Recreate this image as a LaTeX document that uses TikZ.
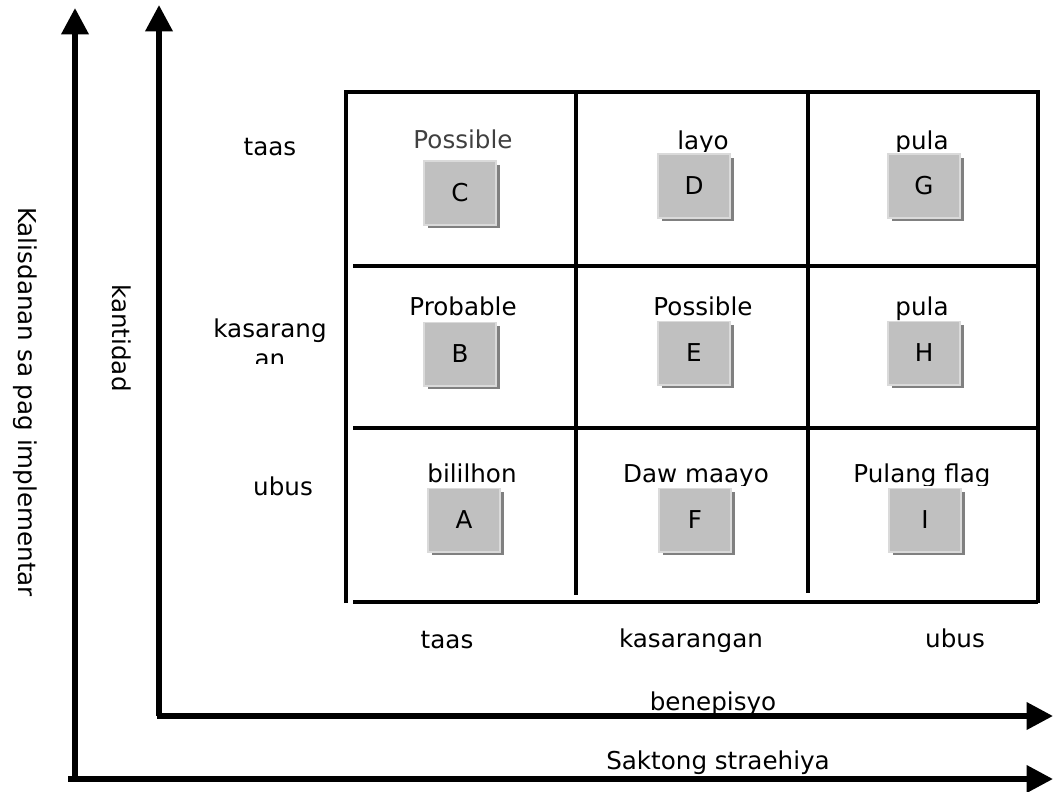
\documentclass[tikz,border=0pt]{standalone}
\usepackage{fontspec}
\setmainfont{DejaVu Sans}
\usetikzlibrary{arrows.meta,shadows}
\definecolor{BoxGray}{HTML}{C0C0C0}
\definecolor{BoxShade}{HTML}{808080}
\definecolor{BoxLight}{HTML}{DADADA}
\definecolor{SoftText}{HTML}{404040}

\begin{document}
\begin{tikzpicture}[
  x=0.02cm,y=-0.02cm,
  >={Triangle[length=15pt,width=15pt]},
  axis/.style={->,line width=3.2pt,draw=black},
  gridline/.style={line width=2.6pt,draw=black},
  cellbox/.style={draw=BoxLight,line width=1pt,fill=BoxGray,minimum width=41pt,minimum height=36pt,inner sep=0pt,font=\fontsize{14}{17}\selectfont,drop shadow={shadow xshift=2pt,shadow yshift=-2pt,fill=BoxShade,opacity=1}},
  cell/.style={anchor=base,inner sep=0pt,font=\fontsize{14}{17}\selectfont},
  lab/.style={inner sep=0pt,font=\fontsize{14}{17}\selectfont}
]
  \useasboundingbox (0,0) rectangle (1054,791);

  % axes
  \coordinate (outerBase) at (75,779);
  \coordinate (outerLeft) at (68,779);
  \coordinate (outerTop) at (75,8);
  \coordinate (outerRight) at (1053,779);
  \coordinate (innerBase) at (159,716);
  \coordinate (innerLeft) at (157,716);
  \coordinate (innerTop) at (159,5);
  \coordinate (innerRight) at (1053,716);
  \draw[axis] (outerBase) -- (outerTop);
  \draw[axis] (outerLeft) -- (outerRight);
  \draw[axis] (innerBase) -- (innerTop);
  \draw[axis] (innerLeft) -- (innerRight);

  % grid
  \draw[gridline] (346,603) -- (346,92) -- (1038,92) -- (1038,603);
  \draw[gridline] (353,266) -- (1038,266);
  \draw[gridline] (353,428) -- (1038,428);
  \draw[gridline] (353,602) -- (1038,602);
  \draw[gridline] (576,92) -- (576,595);
  \draw[gridline] (808,92) -- (808,593);

  % cell captions (cut at the bottom)
  \begin{scope}
    \clip (340,100) rectangle (1036,151) (340,270) rectangle (1036,320) (340,432) rectangle (1036,485);
    \node[cell,text=SoftText] (capC) at (463,148) {Possible};
    \node[cell] (capD) at (703,149) {layo};
    \node[cell] (capG) at (922,149) {pula};
    \node[cell] (capB) at (463,315) {Probable};
    \node[cell] (capE) at (703,315) {Possible};
    \node[cell] (capH) at (922,315) {pula};
    \node[cell] (capA) at (472,482) {bililhon};
    \node[cell] (capF) at (696,482) {Daw maayo};
    \node[cell] (capI) at (922,482) {Pulang flag};
  \end{scope}

  % boxes
  \node[cellbox] (boxC) at (460,193) {C};
  \node[cellbox] (boxD) at (694,186) {D};
  \node[cellbox] (boxG) at (924,186) {G};
  \node[cellbox] (boxB) at (460,354) {B};
  \node[cellbox] (boxE) at (694,353) {E};
  \node[cellbox] (boxH) at (924,353) {H};
  \node[cellbox] (boxA) at (464,520) {A};
  \node[cellbox] (boxF) at (695,520) {F};
  \node[cellbox] (boxI) at (925,520) {I};

  % row and column labels
  \node[lab] (rowTop) at (270,147) {taas};
  \begin{scope}
    \clip (200,290) rectangle (340,363);
    \node[lab,align=center] (rowMid) at (270,343) {kasarang\\an};
  \end{scope}
  \node[lab] (rowLow) at (283,486) {ubus};
  \node[lab] (colLeft) at (447,640) {taas};
  \node[lab] (colMid) at (691,641) {kasarangan};
  \node[lab] (colRight) at (955,638) {ubus};

  % axis titles
  \node[lab] (benefit) at (713,704) {benepisyo};
  \node[lab] (strategy) at (718,763) {Saktong straehiya};
  \node[lab,rotate=-90] (quantity) at (122,338) {kantidad};
  \node[lab,rotate=-90] (difficulty) at (25,402) {Kalisdanan sa pag implementar};
\end{tikzpicture}
\end{document}
